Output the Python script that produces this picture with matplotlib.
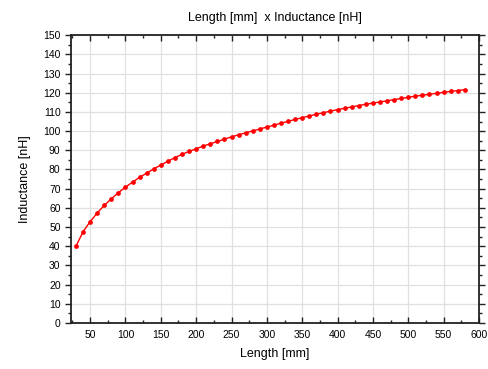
import matplotlib
matplotlib.use("Agg")
import matplotlib.pyplot as plt
from matplotlib.ticker import MultipleLocator

# data
length_mm = [30, 40, 50, 60, 70, 80, 90, 100, 110, 120, 130, 140, 150, 160, 170, 180,
             190, 200, 210, 220, 230, 240, 250, 260, 270, 280, 290, 300, 310, 320, 330,
             340, 350, 360, 370, 380, 390, 400, 410, 420, 430, 440, 450, 460, 470, 480,
             490, 500, 510, 520, 530, 540, 550, 560, 570, 580]
inductance_nh = [40.0, 47.5, 52.8, 57.3, 61.3, 64.7, 67.9, 70.8, 73.4, 75.9, 78.1, 80.3,
                 82.3, 84.3, 86.2, 87.9, 89.4, 90.8, 92.2, 93.4, 94.6, 95.8, 97.0, 98.1,
                 99.1, 100.1, 101.1, 102.1, 103.1, 104.1, 105.1, 106.1, 107.0, 107.9,
                 108.8, 109.6, 110.4, 111.2, 111.9, 112.6, 113.3, 114.0, 114.6, 115.2,
                 115.8, 116.4, 117.0, 117.6, 118.2, 118.7, 119.2, 119.7, 120.2, 120.7,
                 121.1, 121.6]

plt.rcParams['font.family'] = ['Liberation Sans', 'DejaVu Sans']

fig = plt.figure(figsize=(4.88, 3.69), dpi=100)
ax = fig.add_axes([0.1455, 0.1247, 0.836, 0.780])

ax.plot(length_mm, inductance_nh, color='red', linewidth=1.0,
        marker='o', markersize=2.4, zorder=3)

ax.set_xlim(23, 600)
ax.set_ylim(0, 150)
ax.xaxis.set_major_locator(MultipleLocator(50))
ax.xaxis.set_minor_locator(MultipleLocator(25))
ax.yaxis.set_major_locator(MultipleLocator(10))
ax.yaxis.set_minor_locator(MultipleLocator(5))

ax.grid(True, which='major', color='#e0e0e0', linewidth=0.9, zorder=0)
ax.set_axisbelow(True)

for s in ax.spines.values():
    s.set_linewidth(1.3)
    s.set_color('#222222')

ax.tick_params(axis='both', which='major', labelsize=7.5, length=4, width=1, colors='#222222')
ax.tick_params(axis='both', which='minor', length=2.5, width=1, colors='#222222')
ax.tick_params(axis='x', which='both', direction='in', top=True)
ax.tick_params(axis='y', which='both', direction='out', right=True)
ax.tick_params(axis='x', labelcolor='black', pad=5)
ax.tick_params(axis='y', labelcolor='black')

ax.set_xlabel('Length [mm]', fontsize=9, labelpad=6)
ax.set_ylabel('Inductance [nH]', fontsize=9, labelpad=9)
ax.set_title('Length [mm]  x Inductance [nH]', fontsize=9, pad=10)

fig.savefig('out.png', dpi=100, facecolor='white')
